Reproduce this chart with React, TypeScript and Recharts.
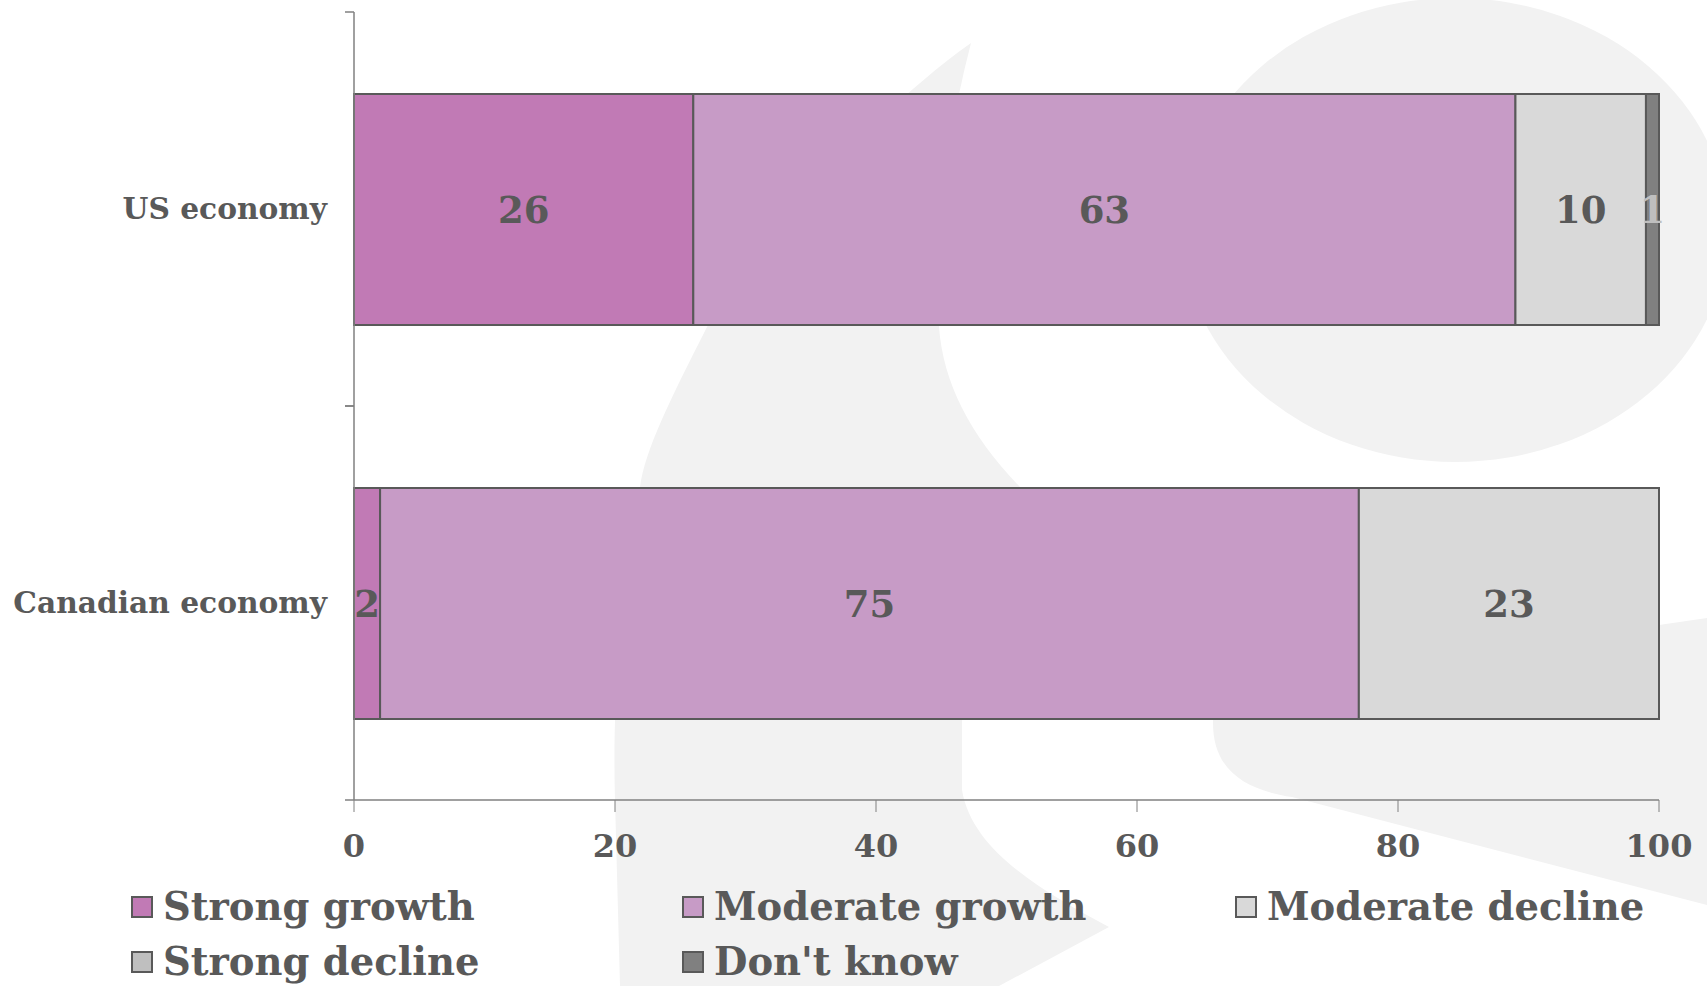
import React from 'react';
import { BarChart, Bar, XAxis, YAxis, LabelList, Legend } from 'recharts';

const categories = ['US economy', 'Canadian economy'];
const strongGrowth = [26, 2];
const moderateGrowth = [63, 75];
const moderateDecline = [10, 23];
const strongDecline = [0, 0];
const dontKnow = [1, 0];
const xTicks = [0, 20, 40, 60, 80, 100];

const seriesNames = ['Strong growth', 'Moderate growth', 'Moderate decline', 'Strong decline', "Don't know"];
const seriesKeys = ['sg', 'mg', 'md', 'sd', 'dk'];
const seriesColors = ['#c17ab5', '#c79bc6', '#d9d9d9', '#bfbfbf', '#808080'];
const labelColors = ['#595959', '#595959', '#595959', '#595959', '#bfbfbf'];

const data = categories.map((c, i) => ({
  name: c,
  sg: strongGrowth[i],
  mg: moderateGrowth[i],
  md: moderateDecline[i],
  sd: strongDecline[i],
  dk: dontKnow[i],
}));

const FONT = "'DejaVu Serif', serif";
const TEXT = '#595959';
const AXIS = '#808080';

const YTick = (props: any) => {
  const { x, y, payload } = props;
  const off = payload && payload.offset ? payload.offset : 197;
  return (
    <g>
      <line x1={x - 9} x2={x} y1={y - off} y2={y - off} stroke={AXIS} strokeWidth={1.5} />
      <line x1={x - 9} x2={x} y1={y + off} y2={y + off} stroke={AXIS} strokeWidth={1.5} />
      <text x={x - 27} y={y} dy="0.35em" textAnchor="end" fill={TEXT} fontFamily={FONT} fontWeight="bold" fontSize={29.7}>
        {payload.value}
      </text>
    </g>
  );
};

const legendPos = [
  { left: 131, top: 36 },
  { left: 682, top: 36 },
  { left: 1235, top: 36 },
  { left: 131, top: 91 },
  { left: 682, top: 91 },
];

const renderLegend = () => (
  <div style={{ position: 'relative', width: 1707, height: 126 }}>
    {seriesNames.map((n, i) => (
      <div
        key={n}
        style={{
          position: 'absolute',
          left: legendPos[i].left,
          top: legendPos[i].top,
          height: 22,
          display: 'flex',
          alignItems: 'center',
          whiteSpace: 'nowrap',
        }}
      >
        <span
          style={{
            display: 'inline-block',
            width: 18,
            height: 18,
            background: seriesColors[i],
            border: '2px solid #595959',
            marginRight: 10,
          }}
        />
        <span style={{ fontFamily: FONT, fontWeight: 'bold', fontSize: 38.5, color: TEXT, lineHeight: '22px' }}>{n}</span>
      </div>
    ))}
  </div>
);

export default function App() {
  return (
    <div style={{ position: 'absolute', left: 0, top: 0, width: 1707, height: 986, background: '#ffffff' }}>
      <svg width={1707} height={986} style={{ position: 'absolute', left: 0, top: 0 }}>
        <ellipse cx={1455} cy={230} rx={273} ry={232} fill="#f2f2f2" />
        <path
          d="M 971 43 C 890 100, 760 230, 707 327 C 670 400, 645 450, 640 487 C 622 580, 612 700, 615 800 L 620 986 L 999 986 L 1109 927 C 1040 890, 972 850, 962 790 L 962 723 C 965 640, 990 560, 1020 487 Q 945 410, 939 327 Q 935 180, 971 43 Z"
          fill="#f2f2f2"
        />
        <path
          d="M 1707 618 L 1213 690 L 1213 723 C 1213 770, 1245 790, 1292 797 L 1707 905 Z"
          fill="#f2f2f2"
        />
      </svg>
      <div style={{ position: 'absolute', left: 0, top: 0 }}>
        <BarChart
          width={1707}
          height={986}
          data={data}
          layout="vertical"
          margin={{ top: 12, right: 48, bottom: 0, left: 0 }}
          barSize={231}
        >
          <XAxis
            type="number"
            domain={[0, 100]}
            ticks={xTicks}
            interval={0}
            height={60}
            tickSize={12}
            tickMargin={22}
            stroke={AXIS}
            axisLine={{ stroke: AXIS, strokeWidth: 1.5 }}
            tickLine={{ stroke: AXIS }}
            tick={{ fill: TEXT, fontFamily: FONT, fontWeight: 'bold', fontSize: 32 }}
          />
          <YAxis
            type="category"
            dataKey="name"
            width={354}
            tickLine={false}
            tickSize={0}
            tickMargin={0}
            axisLine={{ stroke: AXIS, strokeWidth: 1.5 }}
            tick={<YTick />}
            interval={0}
          />
          <Legend verticalAlign="bottom" content={renderLegend} wrapperStyle={{ left: 0, width: 1707, height: 126 }} />
          {seriesKeys.map((k, i) => (
            <Bar
              key={k}
              dataKey={k}
              name={seriesNames[i]}
              stackId="a"
              fill={seriesColors[i]}
              stroke="#595959"
              strokeWidth={2}
              isAnimationActive={false}
            >
              <LabelList
                dataKey={k}
                position="center"
                fill={labelColors[i]}
                fontFamily={FONT}
                fontWeight="bold"
                fontSize={37}
                formatter={(v: any) => (v ? v : '')}
              />
            </Bar>
          ))}
        </BarChart>
      </div>
    </div>
  );
}
